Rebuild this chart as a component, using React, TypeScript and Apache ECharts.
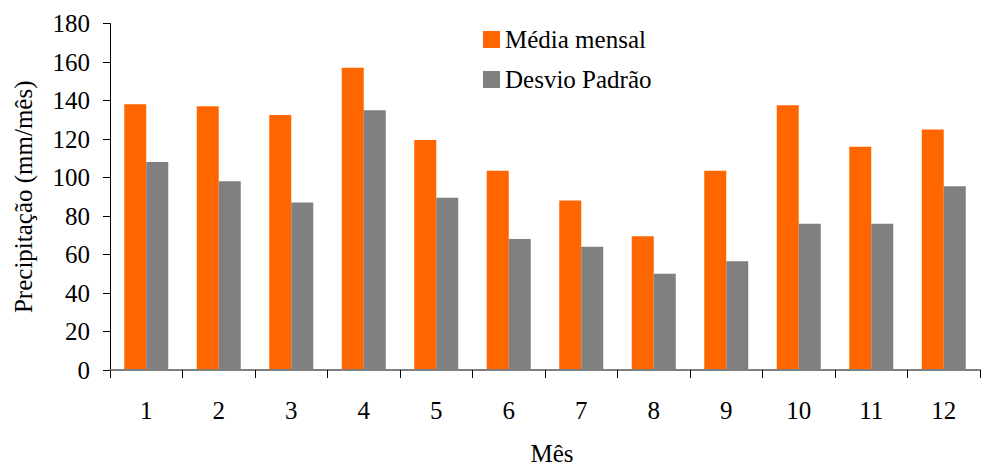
import React, { useEffect, useRef } from "react";
import * as echarts from "echarts";

const meses = ["1", "2", "3", "4", "5", "6", "7", "8", "9", "10", "11", "12"];
const mediaMensal = [138, 137, 132.5, 157, 119.5, 103.5, 88, 69.5, 103.5, 137.5, 116, 125];
const desvioPadrao = [108, 98, 87, 135, 89.5, 68, 64, 50, 56.5, 76, 76, 95.5];
const serieNomes = ["Média mensal", "Desvio Padrão"];

const FONT = "Liberation Serif";

export default function App() {
  const ref = useRef<HTMLDivElement>(null);

  useEffect(() => {
    if (!ref.current) return;
    const chart = echarts.init(ref.current, undefined, { renderer: "svg" });
    const txt = { fontFamily: FONT, fontSize: 25, color: "#000" };
    chart.setOption({
      animation: false,
      backgroundColor: "#ffffff",
      textStyle: { fontFamily: FONT, color: "#000" },
      grid: {
        left: 110,
        right: 6,
        top: 23.5,
        bottom: 96,
        containLabel: false,
        outerBoundsMode: "none",
      },
      legend: {
        orient: "vertical",
        left: 483,
        top: 27,
        padding: 0,
        itemWidth: 17,
        itemHeight: 17,
        itemGap: 15,
        icon: "rect",
        textStyle: txt,
        data: serieNomes,
      },
      xAxis: {
        type: "category",
        data: meses,
        z: 3,
        name: "Mês",
        nameLocation: "middle",
        nameGap: 71,
        nameTextStyle: { ...txt, padding: [0, 0, 0, 14] },
        axisLine: { lineStyle: { color: "#808080", width: 2 } },
        axisTick: { show: true, length: 8, lineStyle: { color: "#000", width: 1 } },
        axisLabel: { ...txt, margin: 28 },
      },
      yAxis: {
        type: "value",
        min: 0,
        max: 180,
        interval: 20,
        name: "Precipitação (mm/mês)",
        nameLocation: "middle",
        nameGap: 74,
        nameTextStyle: txt,
        axisLine: { show: true, lineStyle: { color: "#000", width: 1 } },
        axisTick: { show: true, length: 7, lineStyle: { color: "#000", width: 1 } },
        axisLabel: { ...txt, margin: 20 },
        splitLine: { show: false },
      },
      series: [
        {
          name: serieNomes[0],
          type: "bar",
          data: mediaMensal,
          barWidth: 22,
          barGap: "0%",
          itemStyle: { color: "#FF6600" },
        },
        {
          name: serieNomes[1],
          type: "bar",
          data: desvioPadrao,
          barWidth: 22,
          barGap: "0%",
          itemStyle: { color: "#808080" },
        },
      ],
    });
    return () => chart.dispose();
  }, []);

  return <div ref={ref} style={{ width: 986, height: 466, position: "absolute", left: 0, top: 0 }} />;
}
